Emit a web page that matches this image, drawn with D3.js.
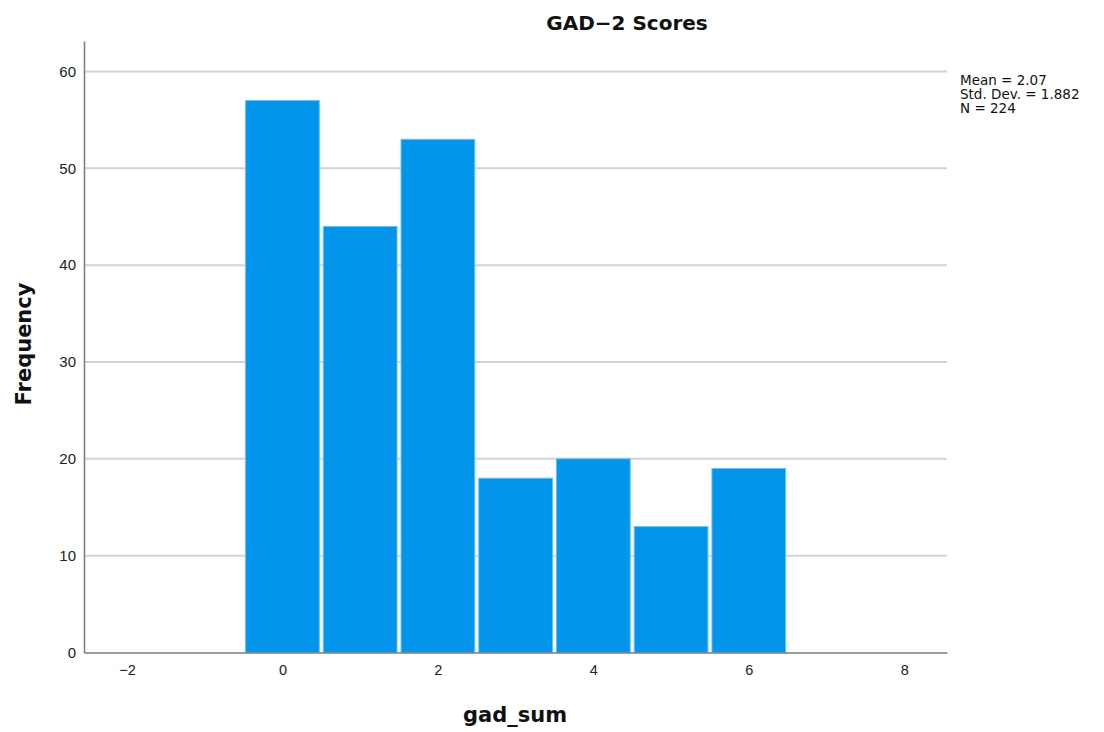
<!DOCTYPE html>
<html>
<head>
<meta charset="utf-8">
<script src="https://cdn.jsdelivr.net/npm/d3@7"></script>
<style>
  html, body { margin: 0; padding: 0; background: #fff; }
  svg { display: block; font-family: "DejaVu Sans", sans-serif; }
</style>
</head>
<body>
<svg id="chart" width="1104" height="732"></svg>
<script>
const scores = [0, 1, 2, 3, 4, 5, 6];
const frequencies = [57, 44, 53, 18, 20, 13, 19];
const xTicks = [-2, 0, 2, 4, 6, 8];
const yTicks = [0, 10, 20, 30, 40, 50, 60];
const statsLines = ["Mean = 2.07", "Std. Dev. = 1.882", "N = 224"];
const titleText = "GAD\u22122 Scores";
const xLabel = "gad_sum";
const yLabel = "Frequency";

const svg = d3.select("#chart");
const mLeft = 84, mRight = 947, mTop = 41, mBottom = 652.5;

const x = d3.scaleLinear().domain([-2.553, 8.55]).range([mLeft, mRight]);
const y = d3.scaleLinear().domain([0, 63.15]).range([mBottom, mTop]);

// gridlines
svg.append("g").selectAll("line").data(yTicks.filter(d => d > 0)).join("line")
  .attr("x1", mLeft).attr("x2", mRight)
  .attr("y1", d => y(d)).attr("y2", d => y(d))
  .attr("stroke", "#d3d3d3").attr("stroke-width", 2);

// bars
svg.append("g").selectAll("rect").data(scores).join("rect")
  .attr("x", (d) => x(d - 0.5) + 2)
  .attr("width", (d) => x(d + 0.5) - x(d - 0.5) - 4)
  .attr("y", (d, i) => y(frequencies[i]))
  .attr("height", (d, i) => mBottom - y(frequencies[i]))
  .attr("fill", "#0395eb")
  .attr("stroke", "#5cc4fb")
  .attr("stroke-width", 1);

// y axis
const yAxis = d3.axisLeft(y).tickValues(yTicks).tickSize(0).tickPadding(8);
const gy = svg.append("g").attr("transform", `translate(${mLeft},0)`).call(yAxis);
gy.select(".domain").attr("stroke", "#7a7a7a").attr("stroke-width", 1.5);
gy.selectAll("text").attr("font-size", 15).attr("fill", "#222");

// x axis
const xAxis = d3.axisBottom(x).tickValues(xTicks).tickSize(0).tickPadding(12)
  .tickFormat(d => d < 0 ? "\u2212" + Math.abs(d) : String(d));
const gx = svg.append("g").attr("transform", `translate(0,${mBottom})`).call(xAxis);
gx.select(".domain").attr("stroke", "#7a7a7a").attr("stroke-width", 1.5);
gx.selectAll("text").attr("font-size", 14.5).attr("fill", "#222");

// title
svg.append("text").attr("x", 627).attr("y", 30).attr("text-anchor", "middle")
  .attr("font-size", 20).attr("font-weight", "bold").attr("fill", "#111").text(titleText);

// axis labels
svg.append("text").attr("x", 515).attr("y", 722).attr("text-anchor", "middle")
  .attr("font-size", 21).attr("font-weight", "bold").attr("fill", "#111").text(xLabel);
svg.append("text").attr("transform", "translate(31,344) rotate(-90)").attr("text-anchor", "middle")
  .attr("font-size", 21).attr("font-weight", "bold").attr("fill", "#111").text(yLabel);

// stats
svg.append("g").selectAll("text").data(statsLines).join("text")
  .attr("x", 960).attr("y", (d, i) => 85 + i * 14)
  .attr("font-size", 13.5).attr("fill", "#111").text(d => d);
</script>
</body>
</html>
